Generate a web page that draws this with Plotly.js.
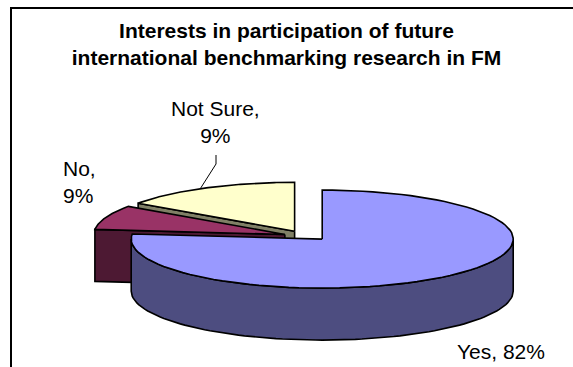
<!DOCTYPE html>
<html>
<head>
<meta charset="utf-8">
<script src="https://cdn.plot.ly/plotly-3.0.1.min.js"></script>
<style>html,body{margin:0;padding:0;background:#fff;overflow:hidden}</style>
</head>
<body>
<div id="chart" style="width:573px;height:367px"></div>
<script>
// ---- data ----
const categories = ['Yes', 'No', 'Not Sure'];
const values = [82, 9, 9];
const topColors = ['#9999FF', '#993366', '#FFFFCC'];
const sideColors = ['#4D4D80', '#4D1933', '#808066'];
const chartTitle = 'Interests in participation of future<br>international benchmarking research in FM';

// ---- view / layout settings (pixel units of the axes) ----
const view = {cx: 305, cy: 236, rx: 191, ry: 49, depth: 52, pull: 0.11, warp: 25 * Math.PI / 180};
const labelPos = {
  'Yes':      {x: 547, y: 351, xanchor: 'right',  twoLines: false},
  'No':       {x: 61,  y: 182, xanchor: 'left',   twoLines: true},
  'Not Sure': {x: 215, y: 122, xanchor: 'center', twoLines: true, leader: [[216, 164], [216, 155]]}
};
const FONT = 'Arial, "Liberation Sans", sans-serif';

const total = values.reduce((a, b) => a + b, 0);
const TAU = 2 * Math.PI;
const warp = a => a + view.warp * Math.sin(2 * a);
const pt = (c, phi, dz = 0) => [c[0] + view.rx * Math.sin(phi), c[1] - view.ry * Math.cos(phi) + dz];
function arc(c, p1, p2, dz = 0, n = 90) {
  const out = [];
  for (let i = 0; i <= n; i++) out.push(pt(c, p1 + (p2 - p1) * i / n, dz));
  return out;
}

// build slices
let cum = 0;
const slices = values.map((v, i) => {
  const a1 = cum / total * TAU; cum += v; const a2 = cum / total * TAU;
  const p1 = warp(a1), p2 = warp(a2), m = warp((a1 + a2) / 2);
  const apex = [view.cx + view.pull * view.rx * Math.sin(m), view.cy - view.pull * view.ry * Math.cos(m)];
  return {i, p1, p2, m, apex, pct: Math.round(v / total * 100) + '%'};
});

const traces = [];
function poly(pts, fill, name) {
  const xs = pts.map(p => p[0]), ys = pts.map(p => p[1]);
  xs.push(xs[0]); ys.push(ys[0]);
  traces.push({type: 'scatter', mode: 'lines', x: xs, y: ys, fill: 'toself', fillcolor: fill,
    line: {color: '#000000', width: 1.6}, hoverinfo: 'skip', showlegend: false, name: name});
}

// draw back to front
const order = slices.slice().sort((a, b) => Math.cos(b.m) - Math.cos(a.m));
order.forEach(s => {
  const name = categories[s.i];
  const A = s.apex, Ad = [A[0], A[1] + view.depth];
  if (Math.cos(s.p1 - Math.PI / 2) < -1e-6)
    poly([A, pt(A, s.p1), pt(A, s.p1, view.depth), Ad], sideColors[s.i], name);
  if (Math.cos(s.p2 + Math.PI / 2) < -1e-6)
    poly([A, pt(A, s.p2), pt(A, s.p2, view.depth), Ad], sideColors[s.i], name);
  const lo = Math.max(s.p1, Math.PI / 2), hi = Math.min(s.p2, 3 * Math.PI / 2);
  if (lo < hi)
    poly(arc(A, lo, hi).concat(arc(A, hi, lo, view.depth)), sideColors[s.i], name);
  poly([A].concat(arc(A, s.p1, s.p2)), topColors[s.i], name);
});

// labels
const annotations = [];
slices.forEach(s => {
  const name = categories[s.i];
  const lp = labelPos[name];
  annotations.push({
    xref: 'x', yref: 'y', x: lp.x, y: lp.y, xanchor: lp.xanchor, yanchor: 'middle',
    text: lp.twoLines ? name + ',<br>' + s.pct : name + ', ' + s.pct,
    showarrow: false, align: lp.xanchor === 'right' ? 'right' : (lp.xanchor === 'left' ? 'left' : 'center'),
    font: {family: FONT, size: 21, color: '#000000'}
  });
  if (lp.leader) {
    const tip = pt(s.apex, s.m);
    const pts = [tip].concat(lp.leader);
    traces.push({type: 'scatter', mode: 'lines', x: pts.map(p => p[0]), y: pts.map(p => p[1]),
      line: {color: '#000000', width: 1}, hoverinfo: 'skip', showlegend: false});
  }
});

const layout = {
  width: 573, height: 367,
  margin: {l: 0, r: 0, t: 0, b: 0},
  paper_bgcolor: '#ffffff', plot_bgcolor: '#ffffff',
  showlegend: false,
  title: {
    text: '<b>' + chartTitle + '</b>',
    font: {family: FONT, size: 21, color: '#000000'},
    x: 0.5, xanchor: 'center', xref: 'paper',
    y: 1 - 38 / 367, yref: 'container', yanchor: 'middle'
  },
  xaxis: {range: [0, 573], visible: false, fixedrange: true},
  yaxis: {range: [367, 0], visible: false, fixedrange: true},
  shapes: [{type: 'rect', xref: 'x', yref: 'y', x0: 11, y0: 8, x1: 640, y1: 440,
    line: {color: '#000000', width: 2}, fillcolor: 'rgba(0,0,0,0)'}],
  annotations: annotations
};

Plotly.newPlot('chart', traces, layout, {staticPlot: true, displayModeBar: false});
</script>
</body>
</html>
